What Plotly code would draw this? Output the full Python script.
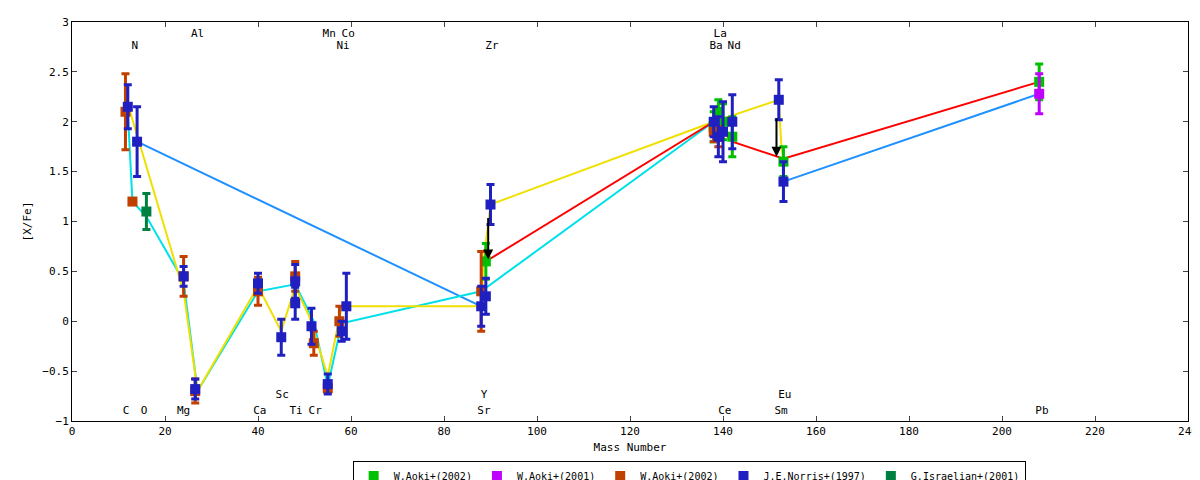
import plotly.graph_objects as go

# Observational data: mass number, [X/Fe], error
aoki02a_x = [89, 138, 139, 140, 142, 153, 208]
aoki02a_y = [0.6, 1.95, 2.1, 2.0, 1.85, 1.6, 2.4]
aoki02a_e = [0.18, 0.15, 0.12, 0.18, 0.2, 0.15, 0.18]

aoki01_x = [208]
aoki01_y = [2.28]
aoki01_e = [0.2]

aoki02b_x = [11.5, 13, 24, 26.5, 40, 48, 52, 55, 57.5, 88, 138, 139]
aoki02b_y = [2.1, 1.2, 0.45, -0.7, 0.3, 0.45, -0.22, -0.67, 0.0, 0.3, 1.9, 1.85]
aoki02b_e = [0.38, 0.0, 0.2, 0.12, 0.14, 0.15, 0.12, 0.05, 0.15, 0.4, 0.1, 0.1]

norris_x = [12, 14, 24, 26.5, 40, 45, 48, 48, 51.5, 55, 58, 59, 88, 89, 90, 138, 139, 140, 142, 152, 153]
norris_y = [2.15, 1.8, 0.45, -0.68, 0.38, -0.16, 0.4, 0.18, -0.05, -0.63, -0.1, 0.15, 0.15, 0.25, 1.17, 2.0, 1.85, 1.9, 2.0, 2.22, 1.4]
norris_e = [0.22, 0.35, 0.1, 0.1, 0.1, 0.18, 0.17, 0.16, 0.18, 0.1, 0.1, 0.33, 0.2, 0.18, 0.2, 0.15, 0.2, 0.3, 0.27, 0.2, 0.2]

isr_x = [16]
isr_y = [1.1]
isr_e = [0.18]

# Model curves
yellow_x = [12.5, 24, 27, 40, 45, 48, 51, 55, 58, 88, 88.5, 90, 138, 152, 152.5, 153]
yellow_y = [2.1, 0.3, -0.7, 0.35, -0.1, 0.35, 0.05, -0.55, 0.15, 0.15, 0.6, 1.17, 2.0, 2.22, 1.8, 1.6]
cyan_x = [12, 13, 16, 24, 27, 40, 48, 52, 55, 58, 88, 138]
cyan_y = [2.1, 1.2, 1.05, 0.4, -0.7, 0.3, 0.37, 0.0, -0.65, -0.02, 0.3, 2.0]
blue1_x = [14, 88]
blue1_y = [1.8, 0.15]
blue2_x = [153, 208]
blue2_y = [1.4, 2.28]
red_x = [89, 138, 142, 153, 208]
red_y = [0.6, 2.0, 1.8, 1.63, 2.4]

labels = ["Al", "Mn", "Co", "La", "N", "Ni", "Zr", "Ba", "Nd",
          "C", "O", "Mg", "Ca", "Ti", "Cr", "Sr", "Ce", "Sm", "Pb", "Sc", "Y", "Eu"]
label_x = [27, 55.3, 59.4, 139.4, 13.5, 58.3, 90.3, 138.5, 142.4,
           11.6, 15.5, 24, 40.4, 48.2, 52.3, 88.6, 140.4, 152.5, 208.6, 45.2, 88.6, 153.3]
label_y = [2.88, 2.88, 2.88, 2.88, 2.76, 2.76, 2.76, 2.76, 2.76,
           -0.9, -0.9, -0.9, -0.9, -0.9, -0.9, -0.9, -0.9, -0.9, -0.9, -0.74, -0.74, -0.74]

fig = go.Figure()
for lx, ly, c in [(blue1_x, blue1_y, "#1e90ff"), (blue2_x, blue2_y, "#1e90ff"),
                  (cyan_x, cyan_y, "#00e0e8"), (yellow_x, yellow_y, "#f0e000"),
                  (red_x, red_y, "#ff0000")]:
    fig.add_trace(go.Scatter(x=lx, y=ly, mode="lines", line=dict(color=c, width=2),
                             showlegend=False, hoverinfo="skip"))

def obs(x, y, e, color, name):
    fig.add_trace(go.Scatter(x=x, y=y, mode="markers", name=name,
                             marker=dict(symbol="square", size=10, color=color),
                             error_y=dict(type="data", array=e, color=color, thickness=3, width=4)))

obs(aoki02a_x, aoki02a_y, aoki02a_e, "#00c000", "W.Aoki+(2002)")
obs(aoki01_x, aoki01_y, aoki01_e, "#c000ff", "W.Aoki+(2001)")
obs(aoki02b_x, aoki02b_y, aoki02b_e, "#c04000", "W.Aoki+(2002)")
obs(norris_x, norris_y, norris_e, "#2020c0", "J.E.Norris+(1997)")
obs(isr_x, isr_y, isr_e, "#008040", "G.Israelian+(2001)")

fig.add_trace(go.Scatter(x=label_x, y=label_y, mode="text", text=labels, showlegend=False,
                         textfont=dict(family="DejaVu Sans Mono", size=11, color="black"),
                         hoverinfo="skip"))

for ax_, y0, y1 in [(89.5, 1.05, 0.62), (151.5, 2.05, 1.65)]:
    fig.add_annotation(x=ax_, y=y1, ax=ax_, ay=y0, xref="x", yref="y", axref="x", ayref="y",
                       showarrow=True, arrowhead=2, arrowsize=1, arrowwidth=2, arrowcolor="black", text="")

axfont = dict(family="DejaVu Sans Mono", size=11, color="black")
fig.update_layout(
    width=1200, height=480, plot_bgcolor="white", paper_bgcolor="white",
    margin=dict(l=64, r=20, t=14, b=67, autoexpand=False),
    font=axfont,
    xaxis=dict(range=[0, 240], dtick=20, ticks="inside", ticklen=5, mirror="allticks",
               showline=True, linecolor="black", linewidth=1, showgrid=False, zeroline=False,
               automargin=False, title=dict(text="Mass Number", font=axfont, standoff=6)),
    yaxis=dict(range=[-1, 3], dtick=0.5, ticks="inside", ticklen=5, mirror="allticks",
               showline=True, linecolor="black", linewidth=1, showgrid=False, zeroline=False,
               automargin=False, title=dict(text="[X/Fe]", font=axfont, standoff=8)),
    legend=dict(orientation="h", x=0.553, xanchor="center", y=-0.138, yanchor="middle",
                bordercolor="black", borderwidth=1, font=dict(family="DejaVu Sans Mono", size=10, color="black"),
                itemwidth=30, tracegroupgap=0),
)
fig.write_html("out.html")
